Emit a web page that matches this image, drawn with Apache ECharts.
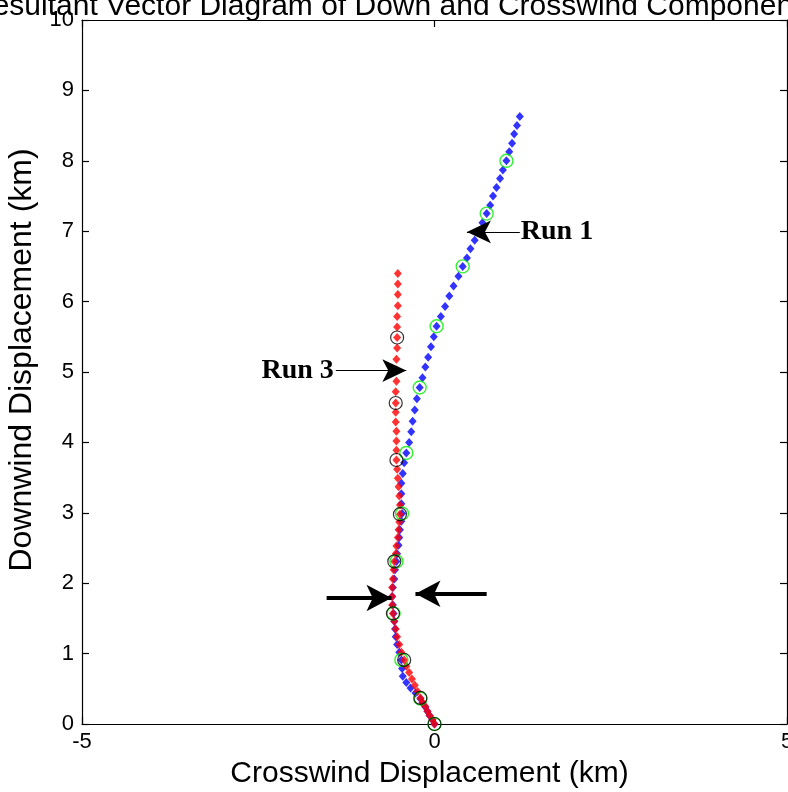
<!DOCTYPE html>
<html>
<head>
<meta charset="utf-8">
<script src="https://cdn.jsdelivr.net/npm/echarts@6/dist/echarts.min.js"></script>
<style>
  html, body { margin: 0; padding: 0; background: #ffffff; }
  #chart { width: 788px; height: 792px; }
</style>
</head>
<body>
<div id="chart"></div>
<script>
// Downwind / crosswind track of two runs (km), one point per time step
const chartTitle = 'Resultant Vector Diagram of Down and Crosswind Components';
const xAxisTitle = 'Crosswind Displacement (km)';
const yAxisTitle = 'Downwind Displacement (km)';

const xRange = [-5, 5];
const xStep = 5;
const yRange = [0, 10];
const yStep = 1;

// Run 1 (blue)
const run1X = [
  0.00, -0.03, -0.07, -0.10, -0.13, -0.17, -0.20,
  -0.27, -0.34, -0.40, -0.45, -0.46, -0.47,
  -0.50, -0.53, -0.55, -0.56, -0.57, -0.58,
  -0.59, -0.60, -0.59, -0.57, -0.56, -0.54,
  -0.53, -0.51, -0.50, -0.49, -0.47, -0.46,
  -0.47, -0.47, -0.47, -0.45, -0.43, -0.40,
  -0.36, -0.33, -0.31, -0.28, -0.25, -0.21,
  -0.17, -0.13, -0.09, -0.05, -0.01, 0.03,
  0.09, 0.15, 0.21, 0.27, 0.34, 0.40,
  0.46, 0.51, 0.57, 0.63, 0.68, 0.74,
  0.79, 0.83, 0.88, 0.93, 0.97, 1.02,
  1.06, 1.10, 1.13, 1.17, 1.21
];
const run1Y = [
  0.00, 0.06, 0.12, 0.18, 0.24, 0.30, 0.36,
  0.44, 0.51, 0.59, 0.68, 0.79, 0.91,
  1.02, 1.13, 1.24, 1.35, 1.46, 1.57,
  1.69, 1.81, 1.94, 2.06, 2.19, 2.31,
  2.42, 2.54, 2.65, 2.76, 2.88, 2.99,
  3.13, 3.27, 3.42, 3.56, 3.71, 3.85,
  4.00, 4.15, 4.30, 4.46, 4.62, 4.78,
  4.92, 5.07, 5.21, 5.36, 5.50, 5.65,
  5.79, 5.93, 6.08, 6.22, 6.36, 6.50,
  6.62, 6.75, 6.87, 7.00, 7.12, 7.25,
  7.37, 7.50, 7.62, 7.75, 7.87, 8.00,
  8.13, 8.25, 8.38, 8.50, 8.63
];
// points of Run 1 marked with a ring (once a minute)
const run1Ringed = [0, 6, 12, 18, 24, 30, 36, 42, 48, 54, 60, 66];

// Run 3 (red)
const run3X = [
  0.00, -0.03, -0.07, -0.10, -0.13, -0.17, -0.20,
  -0.24, -0.28, -0.32, -0.36, -0.40, -0.43,
  -0.47, -0.50, -0.53, -0.55, -0.57, -0.59,
  -0.60, -0.60, -0.60, -0.59, -0.58, -0.57,
  -0.55, -0.54, -0.52, -0.51, -0.50, -0.49,
  -0.49, -0.50, -0.51, -0.52, -0.53, -0.54,
  -0.54, -0.54, -0.54, -0.55, -0.55, -0.55,
  -0.55, -0.54, -0.54, -0.54, -0.53, -0.53,
  -0.53, -0.53, -0.52, -0.52, -0.52, -0.52
];
const run3Y = [
  0.00, 0.06, 0.12, 0.18, 0.25, 0.31, 0.37,
  0.46, 0.55, 0.64, 0.73, 0.82, 0.91,
  1.02, 1.13, 1.24, 1.35, 1.46, 1.57,
  1.69, 1.81, 1.94, 2.06, 2.19, 2.31,
  2.42, 2.53, 2.65, 2.76, 2.87, 2.98,
  3.11, 3.24, 3.37, 3.49, 3.62, 3.75,
  3.89, 4.02, 4.16, 4.29, 4.43, 4.56,
  4.72, 4.87, 5.03, 5.18, 5.34, 5.49,
  5.64, 5.79, 5.94, 6.10, 6.25, 6.40
];
const run3Ringed = [0, 6, 12, 18, 24, 30, 36, 42, 48];

// Annotation arrows: [tailX, tailY, tipX, tipY]
const run1Pointer = [1.21, 6.99, 0.46, 6.99];
const run3Pointer = [-1.40, 5.02, -0.40, 5.02];
const gapPointerLeft = [-1.53, 1.79, -0.61, 1.79];
const gapPointerRight = [0.74, 1.85, -0.27, 1.85];

const SANS = "'Liberation Sans', Arial, Helvetica, sans-serif";
const SERIF = "'Liberation Serif', 'Times New Roman', serif";

function pairs(xs, ys) { return xs.map((x, i) => [x, ys[i]]); }
function pick(xs, ys, idx) { return idx.map(i => [xs[i], ys[i]]); }

function pointer(p, opts) {
  return [
    Object.assign({ coord: [p[0], p[1]], symbol: 'none' }, opts.start || {}),
    { coord: [p[2], p[3]], symbol: 'arrow', symbolSize: opts.head }
  ];
}

const chart = echarts.init(document.getElementById('chart'), null, { renderer: 'canvas' });

const valueAxisCommon = {
  type: 'value',
  axisLine: { show: true, onZero: false, lineStyle: { color: '#000', width: 1.2 } },
  axisTick: { show: true, inside: true, length: 7, lineStyle: { color: '#000', width: 1.2 } },
  splitLine: { show: false }
};

const runLabel = (text, gap) => ({
  label: { show: true, position: 'start', distance: gap, formatter: text,
           fontFamily: SERIF, fontWeight: 'bold', fontSize: 28, color: '#000' }
});

chart.setOption({
  animation: false,
  backgroundColor: '#ffffff',
  title: {
    text: chartTitle,
    left: -34,
    top: -13,
    textStyle: { fontFamily: SANS, fontSize: 30, fontWeight: 'normal', color: '#000' }
  },
  grid: { left: 82, right: 1, top: 20, bottom: 68, containLabel: false, outerBoundsMode: 'none' },
  xAxis: [
    Object.assign({}, valueAxisCommon, {
      position: 'bottom',
      min: xRange[0], max: xRange[1], interval: xStep,
      name: xAxisTitle,
      nameLocation: 'middle',
      nameGap: 35,
      nameTextStyle: { fontFamily: SANS, fontSize: 30, color: '#000', padding: [0, 10, 0, 0] },
      axisLabel: { show: true, margin: 7, fontFamily: SANS, fontSize: 22, color: '#000',
                   showMinLabel: true, showMaxLabel: true }
    }),
    Object.assign({}, valueAxisCommon, {
      position: 'top',
      min: xRange[0], max: xRange[1], interval: xStep,
      axisLabel: { show: false }
    })
  ],
  yAxis: [
    Object.assign({}, valueAxisCommon, {
      position: 'left',
      min: yRange[0], max: yRange[1], interval: yStep,
      name: yAxisTitle,
      nameLocation: 'middle',
      nameGap: 35,
      nameTextStyle: { fontFamily: SANS, fontSize: 32, color: '#000', padding: [0, 0, 0, 24] },
      axisLabel: { show: true, margin: 8, fontFamily: SANS, fontSize: 22, color: '#000',
                   showMinLabel: true, showMaxLabel: true }
    }),
    Object.assign({}, valueAxisCommon, {
      position: 'right',
      min: yRange[0], max: yRange[1], interval: yStep,
      axisLabel: { show: false }
    })
  ],
  series: [
    {
      name: 'Run 1',
      type: 'scatter',
      data: pairs(run1X, run1Y),
      symbol: 'diamond',
      symbolSize: [8, 9],
      itemStyle: { color: '#0000ff' },
      z: 2
    },
    {
      name: 'Run 3',
      type: 'scatter',
      data: pairs(run3X, run3Y),
      symbol: 'diamond',
      symbolSize: [8, 9],
      itemStyle: { color: '#ff0000' },
      z: 3
    },
    {
      name: 'Run 1 minutes',
      type: 'scatter',
      data: pick(run1X, run1Y, run1Ringed),
      symbol: 'circle',
      symbolSize: 13,
      itemStyle: { color: 'rgba(0,0,0,0)', borderColor: '#00ee00', borderWidth: 1.4 },
      z: 4
    },
    {
      name: 'Run 3 minutes',
      type: 'scatter',
      data: pick(run3X, run3Y, run3Ringed),
      symbol: 'circle',
      symbolSize: 13,
      itemStyle: { color: 'rgba(0,0,0,0)', borderColor: '#000000', borderWidth: 1.2 },
      z: 5
    },
    {
      name: 'notes',
      type: 'scatter',
      data: [],
      silent: true,
      z: 6,
      markLine: {
        silent: true,
        animation: false,
        symbol: ['none', 'arrow'],
        lineStyle: { color: '#000', type: 'solid', width: 1.2 },
        label: { show: false },
        emphasis: { disabled: true },
        data: [
          pointer(run1Pointer, { head: [17, 24], start: runLabel('Run 1', 1) }),
          pointer(run3Pointer, { head: [17, 24], start: runLabel('Run 3', 2) }),
          pointer(gapPointerLeft, { head: [20, 25], start: { lineStyle: { width: 4, color: '#000' } } }),
          pointer(gapPointerRight, { head: [20, 25], start: { lineStyle: { width: 4, color: '#000' } } })
        ]
      }
    }
  ]
});
</script>
</body>
</html>
